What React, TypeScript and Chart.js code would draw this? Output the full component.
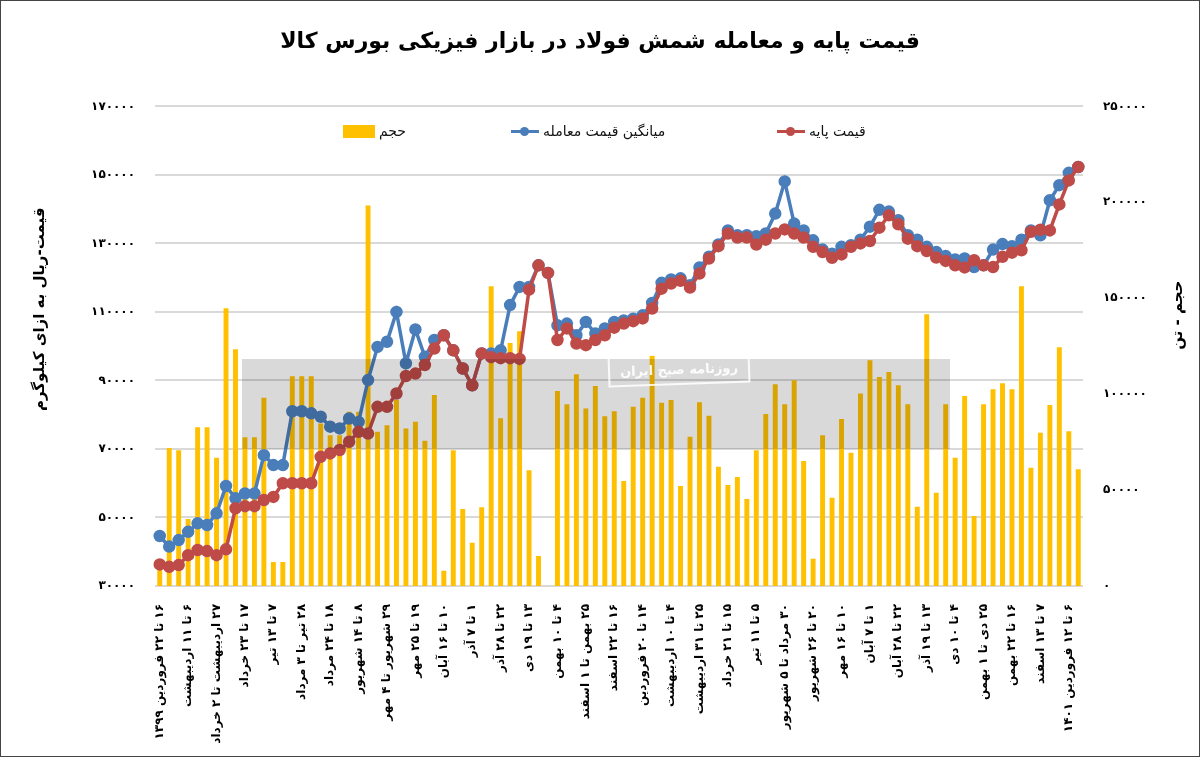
import React, { useEffect, useRef } from "react";
import { Chart, registerables } from "chart.js";

Chart.register(...registerables);

// every third week carries a label on the axis
const weekLabels = [
  "۱۶ تا ۲۲ فروردین ۱۳۹۹",
  "۶ تا ۱۱ اردیبهشت",
  "۲۷ اردیبهشت تا ۲ خرداد",
  "۱۷ تا ۲۳ خرداد",
  "۷ تا ۱۳ تیر",
  "۲۸ تیر تا ۳ مرداد",
  "۱۸ تا ۲۴ مرداد",
  "۸ تا ۱۴ شهریور",
  "۲۹ شهریور تا ۴ مهر",
  "۱۹ تا ۲۵ مهر",
  "۱۰ تا ۱۶ آبان",
  "۱ تا ۷ آذر",
  "۲۲ تا ۲۸ آذر",
  "۱۳ تا ۱۹ دی",
  "۴ تا ۱۰ بهمن",
  "۲۵ بهمن تا ۱ اسفند",
  "۱۶ تا ۲۲ اسفند",
  "۱۴ تا ۲۰ فروردین",
  "۴ تا ۱۰ اردیبهشت",
  "۲۵ تا ۳۱ اردیبهشت",
  "۱۵ تا ۲۱ خرداد",
  "۵ تا ۱۱ تیر",
  "۳۰ مرداد تا ۵ شهریور",
  "۲۰ تا ۲۶ شهریور",
  "۱۰ تا ۱۶ مهر",
  "۱ تا ۷ آبان",
  "۲۲ تا ۲۸ آبان",
  "۱۳ تا ۱۹ آذر",
  "۴ تا ۱۰ دی",
  "۲۵ دی تا ۱ بهمن",
  "۱۶ تا ۲۲ بهمن",
  "۷ تا ۱۳ اسفند",
  "۶ تا ۱۲ فروردین ۱۴۰۱",
];
const LABEL_STEP = 3;

// weekly traded volume (tons)
const volume = [
  9200, 72000, 70800, 34900, 82800, 82800, 66800, 144800, 123400, 77600,
  77600, 98100, 12500, 12500, 109400, 109400, 109400, 84700, 78600, 78600,
  90800, 90800, 198400, 80400, 83800, 96900, 82100, 85600, 75700, 99500,
  8000, 70800, 40100, 22600, 41100, 156200, 87500, 126700, 132800, 60400,
  15600, 0, 101700, 94800, 110400, 92500, 104200, 88500, 91100, 54700,
  93400, 98100, 120300, 95500, 96900, 52100, 77800, 95800, 88700, 62100,
  52600, 56800, 45300, 70800, 89600, 105200, 94800, 107300, 65100, 14200,
  78600, 46000, 87000, 69400, 100300, 117700, 109000, 111600, 104700, 94800,
  41300, 141700, 48600, 94800, 66800, 99000, 36500, 94800, 102600, 105700,
  102600, 156200, 61600, 79900, 94300, 124500, 80700, 60900,
];

// average traded price (rial / kg)
const avgPrice = [
  44600, 41500, 43400, 45800, 48300, 47800, 51200, 59200, 55600, 57000,
  57000, 68200, 65300, 65300, 81000, 81000, 80400, 79400, 76500, 76000,
  78900, 77900, 90100, 99800, 101300, 110000, 95000, 104900, 96900, 101800,
  103200, 98800, 93500, 88600, 97900, 97900, 98800, 112000, 117300, 117300,
  123600, 121400, 106100, 106600, 103200, 107100, 103700, 105200, 107100, 107500,
  108000, 109000, 112600, 118500, 119500, 119800, 117800, 123000, 126100, 129700,
  133800, 132400, 132400, 132100, 132900, 138700, 148100, 135800, 133800, 130900,
  128200, 127000, 129000, 129500, 131100, 134900, 139800, 139300, 136800, 132400,
  131100, 129000, 127500, 126300, 125300, 125600, 123100, 123600, 128200, 129800,
  129200, 131100, 133800, 132400, 142600, 147000, 150600, 152300,
];

// base price (rial / kg)
const basePrice = [
  36300, 35600, 36100, 39000, 40500, 40200, 39000, 40700, 52700, 53300,
  53300, 55100, 56000, 60000, 60000, 60000, 60000, 67700, 68700, 69700,
  72100, 75000, 74500, 82300, 82300, 86200, 91300, 92000, 94500, 99300,
  103200, 98800, 93500, 88600, 97900, 96800, 96500, 96500, 96300, 116500,
  123600, 121400, 101800, 105200, 100800, 100300, 101800, 103200, 105400, 106600,
  107300, 108100, 111000, 116800, 118300, 119100, 117100, 121200, 125600, 129200,
  132900, 131700, 131700, 129700, 131100, 132900, 134100, 132900, 131700, 129000,
  127500, 125800, 126800, 129000, 130000, 130700, 134600, 138200, 135600, 131400,
  129200, 127800, 125900, 124900, 123600, 123000, 125100, 123600, 123100, 126100,
  127300, 128000, 133400, 134000, 133800, 141400, 148400, 152300,
];

const categories = volume.map((_, i) =>
  i % LABEL_STEP === 0 ? weekLabels[i / LABEL_STEP] : ""
);

const TITLE = "قیمت پایه و معامله شمش فولاد در بازار فیزیکی بورس کالا";
const LEFT_TITLE = "قیمت-ریال به ازای کیلوگرم";
const RIGHT_TITLE = "حجم - تن";

const FONT = "'DejaVu Sans', sans-serif";
const GOLD = "#ffc000";
const BLUE = "#4a7ebb";
const RED = "#be4b48";

const toFa = (v: number | string) =>
  String(v).replace(/\d/g, (d) => "۰۱۲۳۴۵۶۷۸۹"[+d]);

// both axis titles read bottom-to-top, so draw them by hand
const axisTitles = {
  id: "axisTitles",
  afterDraw(chart: Chart) {
    const { ctx, chartArea } = chart;
    const mid = (chartArea.top + chartArea.bottom) / 2;
    ctx.save();
    ctx.font = `bold 15px ${FONT}`;
    ctx.fillStyle = "#000";
    ctx.textAlign = "center";
    ctx.textBaseline = "middle";
    ctx.translate(40, mid - 37);
    ctx.rotate(-Math.PI / 2);
    ctx.fillText(LEFT_TITLE, 0, 0);
    ctx.restore();

    ctx.save();
    ctx.font = `bold 15px ${FONT}`;
    ctx.fillStyle = "#000";
    ctx.textAlign = "center";
    ctx.textBaseline = "middle";
    ctx.translate(chart.width - 22, mid - 31);
    ctx.rotate(-Math.PI / 2);
    ctx.fillText(RIGHT_TITLE, 0, 0);
    ctx.restore();
  },
};

const legendItems = [
  { label: "حجم", kind: "box", color: GOLD, left: 343 },
  { label: "میانگین قیمت معامله", kind: "line", color: BLUE, left: 511 },
  { label: "قیمت پایه", kind: "line", color: RED, left: 777 },
];

const Legend = () => (
  <>
    {legendItems.map((it) => (
      <div
        key={it.label}
        style={{
          position: "absolute",
          left: it.left,
          top: 122,
          height: 18,
          display: "flex",
          alignItems: "center",
          gap: 4,
          fontFamily: FONT,
          fontSize: 14,
          color: "#111",
          whiteSpace: "nowrap",
        }}
      >
        {it.kind === "box" ? (
          <div style={{ width: 32, height: 13, background: it.color }} />
        ) : (
          <div style={{ position: "relative", width: 28, height: 13 }}>
            <div
              style={{
                position: "absolute",
                left: 0,
                right: 0,
                top: 5,
                height: 3,
                background: it.color,
              }}
            />
            <div
              style={{
                position: "absolute",
                left: 9,
                top: 2,
                width: 9,
                height: 9,
                borderRadius: "50%",
                background: it.color,
              }}
            />
          </div>
        )}
        <span dir="rtl">{it.label}</span>
      </div>
    ))}
  </>
);

const Watermark = () => (
  <>
    <div
      style={{
        position: "absolute",
        left: 242,
        top: 359,
        width: 708,
        height: 90,
        background: "rgba(0,0,0,0.15)",
        pointerEvents: "none",
      }}
    />
    <div
      dir="rtl"
      style={{
        position: "absolute",
        left: 608,
        top: 353,
        width: 138,
        height: 28,
        border: "2px solid rgba(255,255,255,0.85)",
        color: "rgba(255,255,255,0.9)",
        fontFamily: FONT,
        fontSize: 13,
        fontWeight: "bold",
        display: "flex",
        alignItems: "center",
        justifyContent: "center",
        transform: "rotate(-2deg)",
        pointerEvents: "none",
      }}
    >
      روزنامه صبح ایران
    </div>
  </>
);

export default function App() {
  const canvasRef = useRef<HTMLCanvasElement>(null);

  useEffect(() => {
    document.body.style.margin = "0";
    if (!canvasRef.current) return;

    const tickFont = { family: FONT, size: 12, weight: "bold" as const };

    const chart = new Chart(canvasRef.current, {
      type: "bar",
      data: {
        labels: categories,
        datasets: [
          {
            type: "line",
            label: "قیمت پایه",
            data: basePrice,
            yAxisID: "y",
            borderColor: RED,
            backgroundColor: RED,
            borderWidth: 3.5,
            pointRadius: 4.5,
            pointBackgroundColor: RED,
            pointBorderColor: RED,
            tension: 0,
            order: 1,
          },
          {
            type: "line",
            label: "میانگین قیمت معامله",
            data: avgPrice,
            yAxisID: "y",
            borderColor: BLUE,
            backgroundColor: BLUE,
            borderWidth: 3.5,
            pointRadius: 4.5,
            pointBackgroundColor: BLUE,
            pointBorderColor: BLUE,
            tension: 0,
            order: 2,
          },
          {
            type: "bar",
            label: "حجم",
            data: volume,
            yAxisID: "y1",
            backgroundColor: GOLD,
            barPercentage: 0.52,
            categoryPercentage: 1,
            order: 3,
          },
        ],
      },
      options: {
        animation: false,
        responsive: true,
        maintainAspectRatio: false,
        events: [],
        plugins: {
          legend: { display: false },
          tooltip: { enabled: false },
          title: {
            display: true,
            text: TITLE,
            color: "#000",
            font: { family: FONT, size: 22, weight: "bold" },
            padding: { top: 29, bottom: 51 },
          },
        },
        scales: {
          x: {
            grid: { display: false, drawTicks: false },
            border: { display: false },
            ticks: {
              autoSkip: false,
              minRotation: 90,
              maxRotation: 90,
              padding: 18,
              color: "#000",
              font: tickFont,
            },
            afterFit: (s) => {
              s.height = 171;
            },
          },
          y: {
            position: "left",
            min: 30000,
            max: 170000,
            grid: { color: "#d9d9d9", lineWidth: 2, drawTicks: false },
            border: { display: false },
            ticks: {
              stepSize: 20000,
              padding: 20,
              color: "#000",
              font: tickFont,
              callback: (v) => toFa(v),
            },
            afterFit: (s) => {
              s.width = 155;
            },
          },
          y1: {
            position: "right",
            min: 0,
            max: 250000,
            grid: { display: false, drawTicks: false },
            border: { display: false },
            ticks: {
              stepSize: 50000,
              padding: 20,
              color: "#000",
              font: tickFont,
              callback: (v) => toFa(v),
            },
            afterFit: (s) => {
              s.width = 117;
            },
          },
        },
      },
      plugins: [axisTitles],
    });

    return () => chart.destroy();
  }, []);

  return (
    <div
      style={{
        position: "relative",
        width: 1200,
        height: 757,
        background: "#fff",
        overflow: "hidden",
      }}
    >
      <canvas ref={canvasRef} style={{ direction: "rtl" }} />
      <Legend />
      <Watermark />
      <div
        style={{
          position: "absolute",
          inset: 0,
          border: "1px solid #444",
          pointerEvents: "none",
        }}
      />
    </div>
  );
}
